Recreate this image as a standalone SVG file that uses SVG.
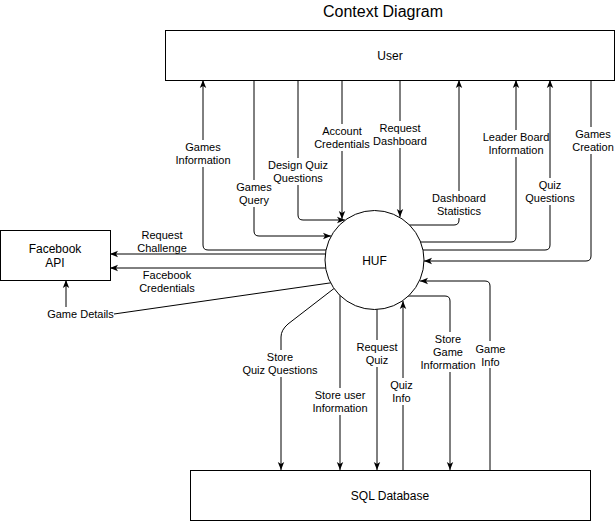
<svg xmlns="http://www.w3.org/2000/svg" width="616" height="521" viewBox="0 0 616 521">
<style>
.ln{fill:none;stroke:#000;stroke-width:1}
.ar{marker-end:url(#arr)}
.bg{fill:#fff;stroke:none}
.lt{font-family:"Liberation Sans",Arial,sans-serif;font-size:11px;fill:#000;text-anchor:middle}
.nd{fill:#fff;stroke:#000;stroke-width:1}
.nt{font-family:"Liberation Sans",Arial,sans-serif;font-size:12px;fill:#000;text-anchor:middle}
.tt{font-family:"Liberation Sans",Arial,sans-serif;font-size:16px;fill:#000;text-anchor:middle}
</style>
<defs>
<marker id="arr" viewBox="0 0 10 10" refX="10" refY="5" markerWidth="8" markerHeight="8" markerUnits="userSpaceOnUse" orient="auto">
<path d="M0,1 L10,5 L0,9 L2.5,5 z" fill="#000"/>
</marker>
</defs>
<rect width="616" height="521" fill="#fff"/>
<text class="tt" x="383" y="17">Context Diagram</text>

<g id="connectors">
<path class="ln ar" d="M340,250 H208 Q203,250 203,245 V80"/>
<path class="ln ar" d="M254,80 V231 Q254,236 259,236 H331"/>
<path class="ln ar" d="M298,80 V215 Q298,220 303,220 H345"/>
<path class="ln ar" d="M342,80 V219"/>
<path class="ln ar" d="M400,80 V217"/>
<path class="ln ar" d="M400,225 H454 Q459,225 459,220 V80"/>
<path class="ln ar" d="M410,242 H511 Q516,242 516,237 V80"/>
<path class="ln ar" d="M410,250 H545 Q550,250 550,245 V80"/>
<path class="ln ar" d="M591,80 V256 Q591,261 586,261 H424"/>
<path class="ln ar" d="M340,254 H110"/>
<path class="ln ar" d="M340,268 H110"/>
<path class="ln" d="M340,281.5 L114,314"/>
<path class="ln ar" d="M66,307 V280"/>
<path class="ln ar" d="M345,280 L288,324 Q281,330 281,337 V470"/>
<path class="ln ar" d="M340,280 V470"/>
<path class="ln ar" d="M377,290 V470"/>
<path class="ln ar" d="M403,470 V301"/>
<path class="ln ar" d="M400,296 H445 Q450,296 450,301 V470"/>
<path class="ln ar" d="M490,470 V286 Q490,281 485,281 H420"/>

<g id="labels">
<rect class="bg" x="175" y="140" width="56" height="27"/>
<text class="lt" x="203" y="151">Games</text><text class="lt" x="203" y="164">Information</text>
<rect class="bg" x="236" y="180" width="36" height="27"/>
<text class="lt" x="254" y="191">Games</text><text class="lt" x="254" y="204">Query</text>
<rect class="bg" x="268" y="158" width="60" height="27"/>
<text class="lt" x="298" y="169">Design Quiz</text><text class="lt" x="298" y="182">Questions</text>
<rect class="bg" x="314" y="124" width="56" height="27"/>
<text class="lt" x="342" y="135">Account</text><text class="lt" x="342" y="148">Credentials</text>
<rect class="bg" x="373" y="121" width="54" height="27"/>
<text class="lt" x="400" y="132">Request</text><text class="lt" x="400" y="145">Dashboard</text>
<rect class="bg" x="432" y="191" width="54" height="27"/>
<text class="lt" x="459" y="202">Dashboard</text><text class="lt" x="459" y="215">Statistics</text>
<rect class="bg" x="483" y="130" width="66" height="27"/>
<text class="lt" x="516" y="141">Leader Board</text><text class="lt" x="516" y="154">Information</text>
<rect class="bg" x="525" y="178" width="50" height="27"/>
<text class="lt" x="550" y="189">Quiz</text><text class="lt" x="550" y="202">Questions</text>
<rect class="bg" x="572" y="127" width="43" height="27"/>
<text class="lt" x="593" y="138">Games</text><text class="lt" x="593" y="151">Creation</text>
<text class="lt" x="162" y="239">Request</text><text class="lt" x="162" y="252">Challenge</text>
<text class="lt" x="167" y="279">Facebook</text><text class="lt" x="167" y="292">Credentials</text>
<text class="lt" x="80.5" y="318">Game Details</text>
<rect class="bg" x="242" y="350" width="76" height="27"/>
<text class="lt" x="280" y="361">Store</text><text class="lt" x="280" y="374">Quiz Questions</text>
<rect class="bg" x="312" y="388" width="56" height="27"/>
<text class="lt" x="340" y="399">Store user</text><text class="lt" x="340" y="412">Information</text>
<rect class="bg" x="356" y="340" width="42" height="27"/>
<text class="lt" x="377" y="350.5">Request</text><text class="lt" x="377" y="363.5">Quiz</text>
<rect class="bg" x="390" y="378" width="23" height="27"/>
<text class="lt" x="401.5" y="389">Quiz</text><text class="lt" x="401.5" y="402">Info</text>
<rect class="bg" x="476" y="341" width="29" height="27"/>
<text class="lt" x="490.5" y="352.5">Game</text><text class="lt" x="490.5" y="365.5">Info</text>
<rect class="bg" x="421" y="332" width="54" height="40"/>
<text class="lt" x="448" y="343">Store</text><text class="lt" x="448" y="356">Game</text><text class="lt" x="448" y="369">Information</text>
</g>
</g>

<g id="user">
<rect class="nd" x="165.5" y="30.5" width="449" height="50"/>
<text class="nt" x="390" y="59.5">User</text>
</g>
<g id="facebook-api">
<rect class="nd" x="0.5" y="230.5" width="110" height="50"/>
<text class="nt" x="55" y="253">Facebook</text>
<text class="nt" x="55" y="267">API</text>
</g>
<g id="huf">
<circle class="nd" cx="374.5" cy="260" r="49.5"/>
<text class="nt" x="374.5" y="264.5">HUF</text>
</g>
<g id="sql-database">
<rect class="nd" x="190.5" y="470.5" width="400" height="50"/>
<text class="nt" x="390" y="499.5">SQL Database</text>
</g>
</svg>
